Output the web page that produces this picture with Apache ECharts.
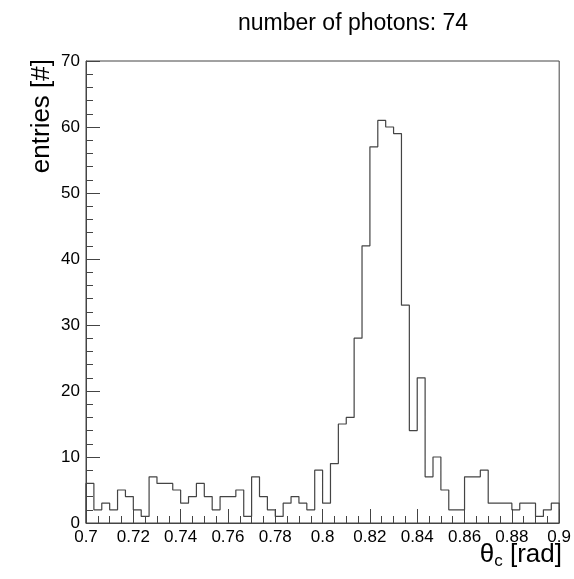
<!DOCTYPE html>
<html>
<head>
<meta charset="utf-8">
<script src="https://cdn.jsdelivr.net/npm/echarts@6/dist/echarts.min.js"></script>
<style>
  html, body { margin: 0; padding: 0; background: #fff; }
  #chart { width: 574px; height: 579px; }
</style>
</head>
<body>
<div id="chart"></div>
<script>
// Histogram of reconstructed Cherenkov angle, 60 bins from 0.7 to 0.9 rad
const titleText = 'number of photons: 74';
const histLow = 0.7;
const histHigh = 0.9;
const counts = [
  6, 2, 3, 2, 5, 4, 2, 1, 7, 6,
  6, 5, 3, 4, 6, 4, 2, 4, 4, 5,
  1, 7, 4, 2, 1, 3, 4, 3, 2, 8,
  3, 9, 15, 16, 28, 42, 57, 61, 60, 59,
  33, 14, 22, 7, 10, 5, 2, 2, 7, 7,
  8, 3, 3, 3, 2, 3, 3, 1, 2, 3
];
const yMax = 70;
const xTickStep = 0.02;
const yTickStep = 10;

const FONT = '"Liberation Sans", Arial, Helvetica, sans-serif';
const INK = '#444';

// Step outline: each bin contributes its left and right edge at its count
const binWidth = (histHigh - histLow) / counts.length;
const outline = [[histLow, 0]];
counts.forEach((c, i) => {
  const lo = histLow + i * binWidth;
  const hi = histLow + (i + 1) * binWidth;
  outline.push([lo, c], [hi, c]);
});
outline.push([histHigh, 0]);

const chart = echarts.init(document.getElementById('chart'), null, { renderer: 'canvas' });

chart.setOption({
  animation: false,
  backgroundColor: '#fff',
  textStyle: { fontFamily: FONT },
  title: {
    text: titleText,
    left: 233,
    top: 7,
    textStyle: { fontFamily: FONT, fontSize: 23, fontWeight: 'normal', color: '#000' }
  },
  grid: {
    left: 86, right: 11, top: 61, bottom: 56,
    show: true, borderColor: INK, borderWidth: 1, backgroundColor: 'transparent'
  },
  xAxis: {
    type: 'value',
    min: histLow, max: histHigh, interval: xTickStep,
    axisLine: { show: true, lineStyle: { color: INK, width: 1 } },
    axisTick: { show: true, inside: true, length: 14, lineStyle: { color: INK } },
    minorTick: { show: true, splitNumber: 4, length: 7, lineStyle: { color: INK } },
    splitLine: { show: false },
    axisLabel: {
      color: '#000', fontSize: 17, fontFamily: FONT, margin: 6,
      formatter: v => String(Number(v.toFixed(3)))
    }
  },
  yAxis: {
    type: 'value',
    min: 0, max: yMax, interval: yTickStep,
    axisLine: { show: true, lineStyle: { color: INK, width: 1 } },
    axisTick: { show: true, inside: true, length: 14, lineStyle: { color: INK } },
    minorTick: { show: true, splitNumber: 5, length: 7, lineStyle: { color: INK } },
    splitLine: { show: false },
    axisLabel: { color: '#000', fontSize: 17, fontFamily: FONT, margin: 6 }
  },
  series: [{
    type: 'line',
    data: outline,
    symbol: 'none',
    lineStyle: { color: INK, width: 1.2 },
    clip: false
  }],
  graphic: [
    {
      type: 'text',
      x: 42, y: 59,
      rotation: Math.PI / 2,
      style: {
        text: 'entries [#]',
        font: '26px ' + FONT,
        fill: '#000',
        align: 'right',
        verticalAlign: 'middle'
      }
    },
    {
      type: 'text',
      right: 12, top: 542,
      style: {
        text: '{t|θ}{s|c}{t| [rad]}',
        fill: '#000',
        rich: {
          t: { fontSize: 26, fontFamily: FONT, fill: '#000' },
          s: { fontSize: 17, fontFamily: FONT, fill: '#000', padding: [12, 0, 0, 0] }
        }
      }
    }
  ]
});
</script>
</body>
</html>
